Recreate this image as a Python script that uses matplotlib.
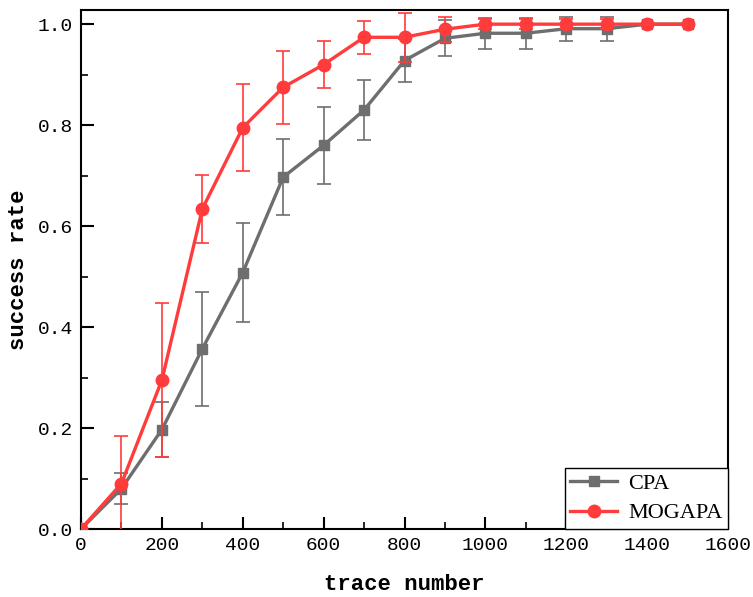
import matplotlib
matplotlib.use("Agg")
import matplotlib.pyplot as plt
from matplotlib.lines import Line2D
from matplotlib.ticker import MultipleLocator

# trace counts
trace_num = [0, 100, 200, 300, 400, 500, 600, 700, 800, 900, 1000, 1100, 1200, 1300, 1400, 1500]

# CPA success rate + std
cpa_rate = [0.0, 0.080, 0.197, 0.357, 0.508, 0.697, 0.760, 0.830, 0.928, 0.972, 0.982, 0.982, 0.991, 0.991, 1.0, 1.0]
cpa_err = [0.0, 0.031, 0.055, 0.113, 0.098, 0.076, 0.076, 0.060, 0.043, 0.036, 0.031, 0.031, 0.024, 0.024, 0.0, 0.0]

# MOGAPA success rate + std
mogapa_rate = [0.0, 0.090, 0.295, 0.634, 0.795, 0.875, 0.920, 0.974, 0.974, 0.990, 1.0, 1.0, 1.0, 1.0, 1.0, 1.0]
mogapa_err = [0.0, 0.094, 0.152, 0.067, 0.086, 0.072, 0.047, 0.033, 0.049, 0.025, 0.010, 0.010, 0.010, 0.010, 0.0, 0.0]

gray = "#6e6e6e"
red = "#ff3b3b"
tick_font = "Liberation Mono"

fig = plt.figure(figsize=(7.53, 5.97), dpi=100)
ax = fig.add_axes([0.1076, 0.1139, 0.8592, 0.8693])

ax.errorbar(trace_num, cpa_rate, yerr=cpa_err, color=gray, lw=2.4, marker="s", ms=7.5,
            ecolor=gray, elinewidth=1.2, capsize=5, capthick=1.2, zorder=3)
ax.errorbar(trace_num, mogapa_rate, yerr=mogapa_err, color=red, lw=2.4, marker="o", ms=9,
            ecolor=red, elinewidth=1.2, capsize=5, capthick=1.2, zorder=4)

ax.set_xlim(0, 1600)
ax.set_ylim(0, 1.028)
ax.xaxis.set_major_locator(MultipleLocator(200))
ax.xaxis.set_minor_locator(MultipleLocator(100))
ax.yaxis.set_major_locator(MultipleLocator(0.2))
ax.yaxis.set_minor_locator(MultipleLocator(0.1))
ax.yaxis.set_major_formatter(matplotlib.ticker.FormatStrFormatter("%.1f"))
ax.tick_params(which="major", direction="in", length=9, width=1.5, labelsize=14, pad=6)
ax.tick_params(which="minor", direction="in", length=5, width=1.2)
for lab in ax.get_xticklabels() + ax.get_yticklabels():
    lab.set_fontfamily(tick_font)
for sp in ax.spines.values():
    sp.set_linewidth(1.5)

ax.set_xlabel("trace number", fontfamily="Liberation Mono", fontweight="bold", fontsize=16, labelpad=14)
ax.set_ylabel("success rate", fontfamily="Liberation Mono", fontweight="bold", fontsize=16, labelpad=6)

handles = [
    Line2D([], [], color=gray, lw=2.4, marker="s", ms=7.5),
    Line2D([], [], color=red, lw=2.4, marker="o", ms=9),
]
leg = ax.legend(handles, ["CPA", "MOGAPA"], loc="lower right",
                prop={"family": "Liberation Serif", "size": 16},
                fancybox=False, edgecolor="black", framealpha=1, borderaxespad=0,
                handlelength=2.1, borderpad=0.25, labelspacing=0.4, handletextpad=0.5)
leg.get_frame().set_linewidth(1.0)

fig.savefig("out.png", dpi=100)
